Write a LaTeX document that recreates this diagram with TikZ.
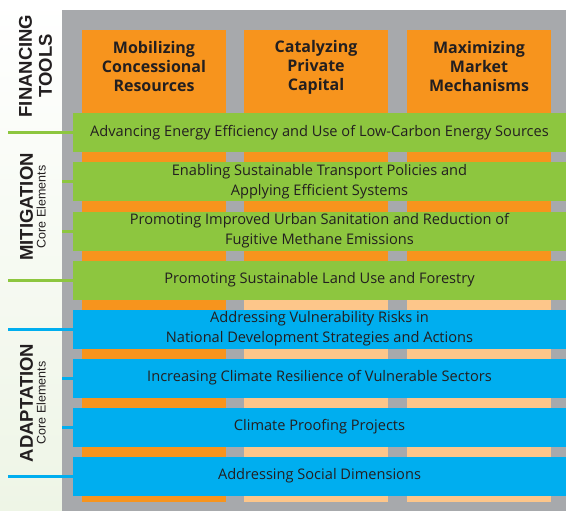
\documentclass[tikz,border=0pt]{standalone}
\usepackage{fontspec}
\setmainfont{Open Sans}
\newfontfamily\sidefont{Liberation Sans}
\usepackage{xcolor}
\usetikzlibrary{positioning}
\definecolor{ink}{HTML}{231F20}
\definecolor{panelgray}{HTML}{A7A9AC}
\definecolor{toolorange}{HTML}{F7941D}
\definecolor{paleorange}{HTML}{FDC68A}
\definecolor{mitgreen}{HTML}{8DC63F}
\definecolor{adablue}{HTML}{00AEEF}
\definecolor{sidebg}{HTML}{EEF5E6}

\begin{document}
\begin{tikzpicture}[
    x=1pt, y=-1pt,
    band/.style={minimum width=493pt, minimum height=39pt, inner sep=0pt, align=center,
        text=ink, font=\fontsize{14.6}{20}\selectfont},
    mitband/.style={band, fill=mitgreen},
    adaband/.style={band, fill=adablue},
    tool/.style={align=center, text=ink, font=\bfseries\fontsize{16}{19}\selectfont},
    side/.style={rotate=90, align=center, text=ink, inner sep=0pt},
    tick/.style={line width=3pt}
]
    \useasboundingbox (0,0) rectangle (566,511);
    \shade[top color=white, bottom color=sidebg] (0,0) rectangle (62,511);
    \fill[panelgray] (62,10) rectangle (566,511);

    % Financing tool columns
    \fill[toolorange] (82,30) rectangle (226,502);
    \fill[toolorange] (244,30) rectangle (388,299);
    \fill[toolorange] (407,30) rectangle (551,299);
    \fill[paleorange] (244,299) rectangle (388,502);
    \fill[paleorange] (407,299) rectangle (551,502);

    \node[tool] (mob) at (154,67) {Mobilizing\\Concessional\\Resources};
    \node[tool] (cat) at (316,67) {Catalyzing\\Private\\Capital};
    \node[tool] (max) at (479,67) {Maximizing\\Market\\Mechanisms};

    % Mitigation core elements
    \node[mitband] (m1) at (319.5,133)
        {Advancing Energy Efficiency and Use of Low-Carbon Energy Sources};
    \node[mitband] (m2) at (319.5,182) {Enabling Sustainable Transport Policies and\\Applying Efficient Systems};
    \node[mitband] (m3) at (319.5,231) {Promoting Improved Urban Sanitation and Reduction of\\Fugitive Methane Emissions};
    \node[mitband] (m4) at (319.5,280) {Promoting Sustainable Land Use and Forestry};

    % Adaptation core elements
    \node[adaband] (a1) at (319.5,329) {Addressing Vulnerability Risks in\\National Development Strategies and Actions};
    \node[adaband] (a2) at (319.5,378) {Increasing Climate Resilience of Vulnerable Sectors};
    \node[adaband] (a3) at (319.5,427) {Climate Proofing Projects};
    \node[adaband] (a4) at (319.5,476) {Addressing Social Dimensions};

    % Side labels
    \node[side, font=\sidefont\bfseries\fontsize{18.5}{20}\selectfont] (fin) at (35.5,66) {FINANCING\\TOOLS};
    \node[side, font=\sidefont\bfseries\fontsize{18.5}{18}\selectfont] (mit) at (26.5,207) {MITIGATION};
    \node[side, font=\sidefont\fontsize{12.5}{12}\selectfont, right=3pt of mit.south, anchor=north] (mitcore) {Core Elements};
    \node[side, font=\sidefont\bfseries\fontsize{18.5}{18}\selectfont] (ada) at (26.5,403) {ADAPTATION};
    \node[side, font=\sidefont\fontsize{12.5}{12}\selectfont, right=3pt of ada.south, anchor=north] (adacore) {Core Elements};

    % Connectors
    \coordinate (mtop) at (8,133);
    \coordinate (mbot) at (8,280);
    \coordinate (atop) at (8,329);
    \coordinate (abot) at (8,476);
    \draw[tick, mitgreen] (mtop) -- (m1.west);
    \draw[tick, mitgreen] (mbot) -- (m4.west);
    \draw[tick, mitgreen] (62,182) -- (m2.west);
    \draw[tick, mitgreen] (62,231) -- (m3.west);
    \draw[tick, adablue] (atop) -- (a1.west);
    \draw[tick, adablue] (abot) -- (a4.west);
    \draw[tick, adablue] (62,378) -- (a2.west);
    \draw[tick, adablue] (62,427) -- (a3.west);
\end{tikzpicture}
\end{document}
